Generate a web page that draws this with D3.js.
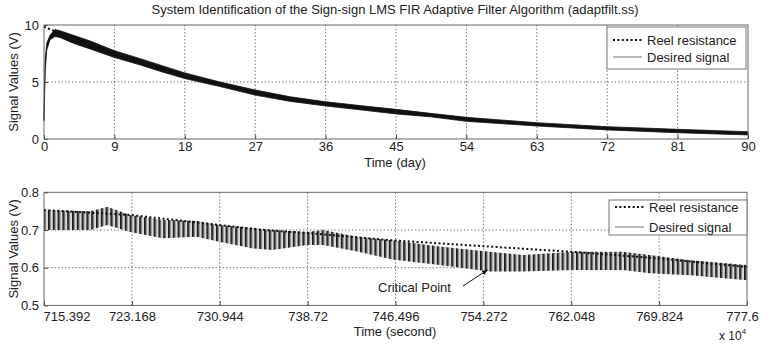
<!DOCTYPE html>
<html>
<head>
<meta charset="utf-8">
<script src="https://cdn.jsdelivr.net/npm/d3@7"></script>
<style>
  html, body { margin: 0; padding: 0; background: #fff; }
  svg { display: block; font-family: "Liberation Sans", Arial, sans-serif; }
  .tick text { font-size: 13px; fill: #222; }
  .grid { stroke: #555; stroke-width: 0.8; stroke-dasharray: 1.5,2; }
</style>
</head>
<body>
<svg id="chart" width="764" height="344"></svg>
<script>
// ── data ──────────────────────────────────────────────────
const dayTicks = [0, 9, 18, 27, 36, 45, 54, 63, 72, 81, 90];
const voltTicksTop = [0, 5, 10];
const secTicks = [715.392, 723.168, 730.944, 738.72, 746.496, 754.272, 762.048, 769.824, 777.6];
const voltTicksBottom = [0.5, 0.6, 0.7, 0.8];
const seriesNames = ['Reel resistance', 'Desired signal'];

// top panel: desired signal band (upper / lower edge of the noisy trace)
const dayT     = [0, 0.15, 0.35, 0.77, 1.4, 2.05, 3.75, 5.9, 9, 12.3, 14.8, 18, 22.5, 27, 31.5, 36, 40.4, 45, 49.4, 54, 63, 72, 81, 90];
const dayUpper = [2.4, 7.0, 8.4, 9.1, 9.6, 9.5, 9.1, 8.6, 7.75, 7.05, 6.5, 5.8, 5.0, 4.3, 3.7, 3.27, 2.93, 2.6, 2.25, 1.9, 1.43, 1.08, 0.85, 0.64];
const dayLower = [1.6, 6.0, 7.8, 8.7, 9.0, 8.9, 8.4, 7.9, 7.15, 6.5, 5.95, 5.3, 4.6, 3.85, 3.3, 2.9, 2.56, 2.2, 1.95, 1.55, 1.14, 0.8, 0.55, 0.36];
// top panel: reel resistance (dotted)
const reelDayT = [0, 1.2, 2.05, 5.9, 9, 18, 27, 36, 45, 54, 63, 72, 81, 90];
const reelDayV = [9.85, 9.5, 9.2, 8.25, 7.45, 5.55, 4.07, 3.08, 2.4, 1.72, 1.28, 0.94, 0.7, 0.5];

// bottom panel (x 10^4 s): desired signal band
const secT     = [715.392, 719.5, 721.0, 723.0, 725.9, 728.9, 730.9, 733.9, 735.6, 738.7, 740.1, 743.1, 746.2, 750.4, 754.8, 757.8, 762.2, 766.6, 769.0, 772.6, 777.6];
const secUpper = [0.753, 0.75, 0.762, 0.74, 0.727, 0.724, 0.713, 0.705, 0.70, 0.695, 0.70, 0.682, 0.673, 0.656, 0.642, 0.634, 0.642, 0.642, 0.634, 0.62, 0.607];
const secLower = [0.70, 0.70, 0.713, 0.695, 0.678, 0.682, 0.669, 0.651, 0.647, 0.66, 0.66, 0.643, 0.622, 0.607, 0.59, 0.59, 0.594, 0.594, 0.585, 0.58, 0.567];
// bottom panel: reel resistance (dotted)
const reelSecT = [715.392, 723.0, 730.9, 734.9, 738.7, 746.0, 754.8, 762.2, 769.6, 777.6];
const reelSecV = [0.753, 0.74, 0.713, 0.70, 0.692, 0.673, 0.656, 0.642, 0.625, 0.602];

const svg = d3.select('#chart');
const defs = svg.append('defs');

// vertical hatch that stands in for the fast oscillation
const pat = defs.append('pattern').attr('id', 'osc')
  .attr('patternUnits', 'userSpaceOnUse').attr('width', 4.8).attr('height', 10);
pat.append('rect').attr('x', 0).attr('width', 4.8).attr('height', 10).attr('fill', '#d8d8d8');
pat.append('rect').attr('x', 0).attr('width', 1.8).attr('height', 10).attr('fill', '#1a1a1a');
pat.append('rect').attr('x', 1.8).attr('width', 0.9).attr('height', 10).attr('fill', '#777');

defs.append('marker').attr('id', 'arrow').attr('viewBox', '0 0 10 10')
  .attr('refX', 9).attr('refY', 5).attr('markerWidth', 6).attr('markerHeight', 6)
  .attr('orient', 'auto')
  .append('path').attr('d', 'M0,1 L10,5 L0,9 Z').attr('fill', '#111');

svg.append('text').attr('x', 395).attr('y', 14).attr('text-anchor', 'middle')
  .style('font-size', '13px').attr('fill', '#222')
  .text('System Identification of the Sign-sign LMS FIR Adaptive Filter Algorithm (adaptfilt.ss)');

function panel(o) {
  const x = d3.scaleLinear().domain(o.xDomain).range([o.left, o.right]);
  const y = d3.scaleLinear().domain(o.yDomain).range([o.bottom, o.top]);
  const g = svg.append('g');

  // grid
  g.selectAll('.gx').data(o.xTicks.slice(1, -1)).enter().append('line').attr('class', 'grid')
    .attr('x1', d => x(d)).attr('x2', d => x(d)).attr('y1', o.top).attr('y2', o.bottom);
  g.selectAll('.gy').data(o.yTicks.slice(1, -1)).enter().append('line').attr('class', 'grid')
    .attr('x1', o.left).attr('x2', o.right).attr('y1', d => y(d)).attr('y2', d => y(d));

  // desired signal band
  const band = o.bandT.map((t, i) => ({ t, hi: o.bandHi[i], lo: o.bandLo[i] }));
  g.append('path').datum(band)
    .attr('d', d3.area().x(d => x(d.t)).y0(d => y(d.lo)).y1(d => y(d.hi)))
    .attr('fill', o.bandFill).attr('stroke', o.bandStroke).attr('stroke-width', 0.8);

  // reel resistance
  const reel = o.reelT.map((t, i) => ({ t, v: o.reelV[i] }));
  g.append('path').datum(reel)
    .attr('d', d3.line().x(d => x(d.t)).y(d => y(d.v)))
    .attr('fill', 'none').attr('stroke', '#111').attr('stroke-width', 2)
    .attr('stroke-dasharray', '2,2.4');

  // axes (inward ticks, MATLAB style)
  const ax = g.append('g').attr('transform', `translate(0,${o.bottom})`)
    .call(d3.axisBottom(x).tickValues(o.xTicks).tickSizeInner(-4).tickSizeOuter(0)
      .tickPadding(o.xPad).tickFormat(d => String(d)));
  const ay = g.append('g').attr('transform', `translate(${o.left},0)`)
    .call(d3.axisLeft(y).tickValues(o.yTicks).tickSizeInner(-4).tickSizeOuter(0)
      .tickPadding(5).tickFormat(o.yFmt));
  [ax, ay].forEach(a => {
    a.select('.domain').remove();
    a.selectAll('.tick line').attr('stroke', '#444');
    a.selectAll('.tick text').attr('font-family', null).attr('font-size', null);
  });

  g.append('rect').attr('x', o.left).attr('y', o.top)
    .attr('width', o.right - o.left).attr('height', o.bottom - o.top)
    .attr('fill', 'none').attr('stroke', '#666').attr('stroke-width', 1);

  // labels
  g.append('text').attr('transform', `translate(18,${(o.top + o.bottom) / 2}) rotate(-90)`)
    .attr('text-anchor', 'middle').style('font-size', '13px').attr('fill', '#222')
    .text('Signal Values (V)');
  g.append('text').attr('x', 395).attr('y', o.xLabelY).attr('text-anchor', 'middle')
    .style('font-size', '13px').attr('fill', '#222').text(o.xLabel);

  // legend
  const lg = g.append('g');
  lg.append('rect').attr('x', o.leg.x).attr('y', o.leg.y).attr('width', o.leg.w).attr('height', o.leg.h)
    .attr('fill', '#fff').attr('stroke', '#777').attr('stroke-width', 1);
  seriesNames.forEach((name, i) => {
    const cy = o.leg.rows[i];
    lg.append('line').attr('x1', o.leg.x + 6).attr('x2', o.leg.x + 35).attr('y1', cy).attr('y2', cy)
      .attr('stroke', i === 0 ? '#111' : '#777').attr('stroke-width', i === 0 ? 2 : 1)
      .attr('stroke-dasharray', i === 0 ? '2,2.4' : null);
    lg.append('text').attr('x', o.leg.x + 40).attr('y', cy + 4.5)
      .style('font-size', '13px').attr('fill', '#222').text(name);
  });
  return { x, y, g, ax };
}

panel({
  xDomain: [0, 90], yDomain: [0, 10], left: 44, right: 748, top: 25, bottom: 139,
  xTicks: dayTicks, yTicks: voltTicksTop, xPad: 3, yFmt: d => String(d),
  bandT: dayT, bandHi: dayUpper, bandLo: dayLower, bandFill: '#111', bandStroke: '#111',
  reelT: reelDayT, reelV: reelDayV,
  xLabel: 'Time (day)', xLabelY: 167,
  leg: { x: 607, y: 27, w: 139, h: 42, rows: [40, 57] }
});

const bottom = panel({
  xDomain: [715.392, 777.6], yDomain: [0.5, 0.8], left: 44, right: 747, top: 192.3, bottom: 305.4,
  xTicks: secTicks, yTicks: voltTicksBottom, xPad: 6, yFmt: d3.format('.1f'),
  bandT: secT, bandHi: secUpper, bandLo: secLower, bandFill: 'url(#osc)', bandStroke: 'none',
  reelT: reelSecT, reelV: reelSecV,
  xLabel: 'Time (second)', xLabelY: 336,
  leg: { x: 609, y: 200, w: 138, h: 35, rows: [207, 227] }
});
// first label sits right of its tick, last one nudged left, as in the original
bottom.ax.selectAll('.tick text').filter((d, i) => i === 0).attr('text-anchor', 'start').attr('x', -1);
bottom.ax.selectAll('.tick text').filter((d, i) => i === secTicks.length - 1).attr('x', -5);

// annotation
const critT = 754.272, critV = 0.594;
bottom.g.append('text').attr('x', 378).attr('y', 291.5).style('font-size', '13px')
  .attr('fill', '#222').text('Critical Point');
bottom.g.append('line').attr('x1', 463).attr('y1', 286)
  .attr('x2', bottom.x(critT) + 4).attr('y2', bottom.y(critV))
  .attr('stroke', '#111').attr('stroke-width', 1).attr('marker-end', 'url(#arrow)');

// exponent
const ex = svg.append('text').attr('x', 719).attr('y', 340).style('font-size', '12px').attr('fill', '#222');
ex.append('tspan').text('x 10');
ex.append('tspan').attr('dy', -6).style('font-size', '8px').text('4');
</script>
</body>
</html>
